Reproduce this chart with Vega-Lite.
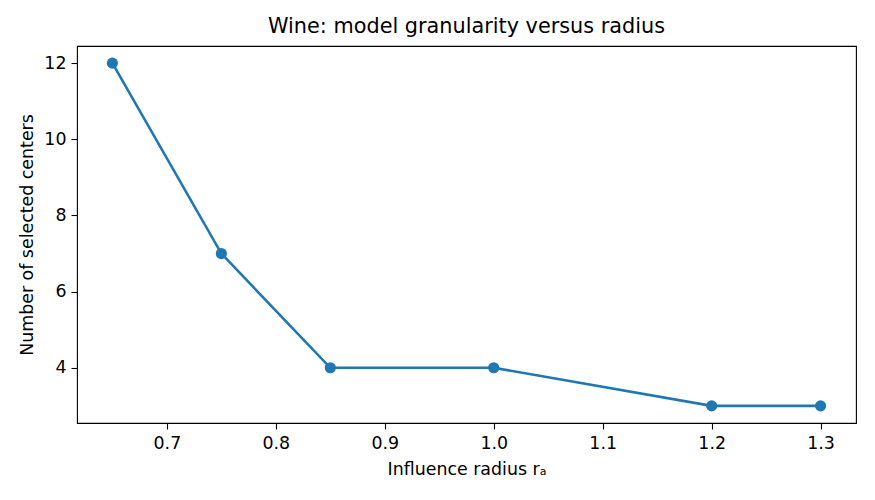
{
  "$schema": "https://vega.github.io/schema/vega-lite/v6.json",
  "width": 779,
  "height": 377,
  "autosize": {"type": "none"},
  "padding": {"left": 77, "top": 46, "right": 19, "bottom": 77},
  "background": "white",
  "title": {
    "text": "Wine: model granularity versus radius",
    "font": "DejaVu Sans",
    "fontSize": 20.8,
    "fontWeight": "normal",
    "color": "black",
    "offset": 8
  },
  "config": {
    "view": {"stroke": "black", "strokeWidth": 1.1},
    "axis": {
      "grid": false,
      "domain": false,
      "labelFont": "DejaVu Sans",
      "labelFontSize": 17.4,
      "labelColor": "black",
      "titleFont": "DejaVu Sans",
      "titleFontSize": 17.4,
      "titleFontWeight": "normal",
      "titleColor": "black",
      "tickColor": "black",
      "tickSize": 6,
      "tickWidth": 1.1,
      "labelPadding": 5
    }
  },
  "data": {
    "values": [
      {"radius": 0.65, "centers": 12},
      {"radius": 0.75, "centers": 7},
      {"radius": 0.85, "centers": 4},
      {"radius": 1.0, "centers": 4},
      {"radius": 1.2, "centers": 3},
      {"radius": 1.3, "centers": 3}
    ]
  },
  "mark": {
    "type": "line",
    "color": "#1f77b4",
    "strokeWidth": 2.6,
    "point": {"filled": true, "size": 125, "color": "#1f77b4", "opacity": 1}
  },
  "encoding": {
    "x": {
      "field": "radius",
      "type": "quantitative",
      "title": "Influence radius rₐ",
      "scale": {"domain": [0.6175, 1.3325], "nice": false, "zero": false},
      "axis": {"values": [0.7, 0.8, 0.9, 1.0, 1.1, 1.2, 1.3], "format": ".1f", "titlePadding": 9}
    },
    "y": {
      "field": "centers",
      "type": "quantitative",
      "title": "Number of selected centers",
      "scale": {"domain": [2.55, 12.45], "nice": false, "zero": false},
      "axis": {"values": [4, 6, 8, 10, 12], "titlePadding": 7}
    }
  }
}
